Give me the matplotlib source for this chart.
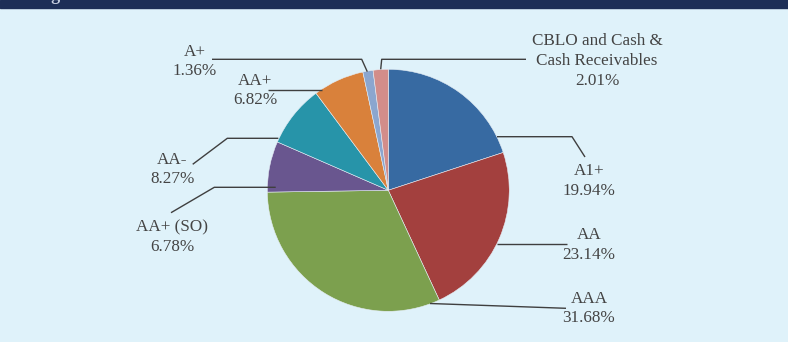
import matplotlib
matplotlib.use("Agg")
import matplotlib.pyplot as plt

# Rating profile of the portfolio (% of net assets)
ratings = ["A1+", "AA", "AAA", "AA+ (SO)", "AA-", "AA+", "A+",
           "CBLO and Cash &\nCash Receivables"]
shares = [19.94, 23.14, 31.68, 6.78, 8.27, 6.82, 1.36, 2.01]
colors = ["#376aa2", "#a3403e", "#7ca04e", "#69568f", "#2794a9",
          "#d9813b", "#8ba6cf", "#d28d8a"]

W, H = 788, 342
fig = plt.figure(figsize=(W / 100, H / 100), dpi=100)
fig.patch.set_facecolor("#dff2fa")
ax = fig.add_axes([0, 0, 1, 1])
ax.set_facecolor("#dff2fa")

# header band
ax.add_patch(plt.Rectangle((0, 0), W, 7.5, color="#1d2f57", zorder=1))
ax.text(8, -0.3, "Rating Profile", color="#c8d0e0", fontsize=13,
        fontweight="bold", family="Liberation Serif", va="baseline",
        ha="left", zorder=2)

# pie (y axis points down, so counterclock=True reads clockwise on screen)
ax.pie(shares, colors=colors, startangle=-90, counterclock=True,
       center=(388.3, 190.3), radius=121,
       wedgeprops=dict(edgecolor="#e6eef5", linewidth=0.4),
       frame=True)

ax.set_xlim(0, W)
ax.set_ylim(H, 0)
ax.set_aspect("auto")
ax.axis("off")

# label text positions and leader paths (pixel layout)
label_pos = [(589, 181), (589, 245), (589, 308.5), (172.5, 237),
             (172.5, 169.5), (255, 90.5), (195, 61.5), (597, 61)]
leaders = [
    [(497, 136.7), (572, 136.7), (585, 157)],
    [(496.7, 244.3), (566.7, 244.3)],
    [(430, 303.5), (566, 308.3)],
    [(275.7, 187.3), (214.3, 187.3), (171, 212.7)],
    [(278.3, 138.3), (227.3, 138.3), (192.7, 164.3)],
    [(321.7, 90), (268, 90)],
    [(367.3, 71.7), (361.7, 59.3), (212, 59.3)],
    [(380.7, 69.3), (381.7, 59.3), (526, 59.3)],
]

for name, val, (x, y), path in zip(ratings, shares, label_pos, leaders):
    ax.text(x, y, f"{name}\n{val:.2f}%", ha="center", va="center",
            fontsize=12.3, family="Liberation Serif", color="#444444",
            linespacing=1.32, zorder=3)
    xs, ys = zip(*path)
    ax.plot(xs, ys, color="#3f3f3f", lw=1.0, zorder=3,
            solid_capstyle="butt")

fig.savefig("out.png", dpi=100, facecolor=fig.get_facecolor())
